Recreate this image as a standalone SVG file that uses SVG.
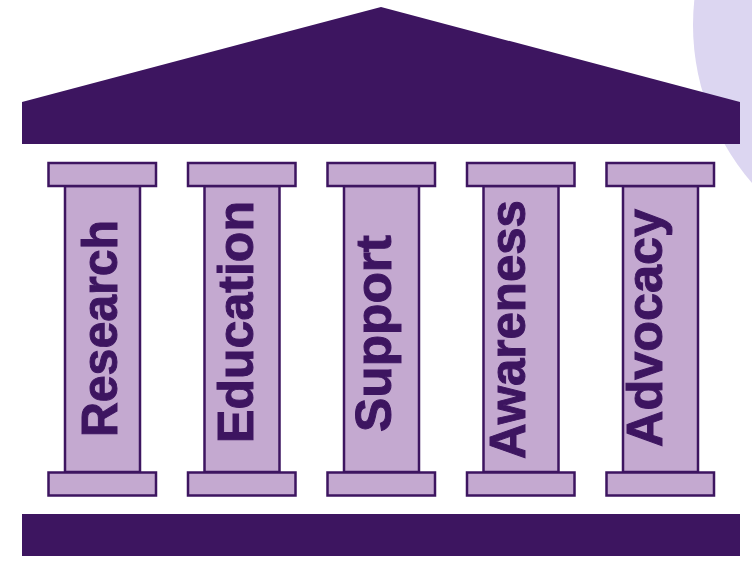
<svg xmlns="http://www.w3.org/2000/svg" width="752" height="561" viewBox="0 0 752 561">
<style>
.dark{fill:#3d1560}
.part{fill:#c4a9d0;stroke:#3d1560;stroke-width:2.5}
.lbl{font-family:"Liberation Sans",Arial,sans-serif;font-weight:bold;font-size:50px;fill:#3d1560;stroke:#3d1560;stroke-width:1;text-anchor:middle}
</style>
<rect width="752" height="561" fill="#ffffff"/>
<ellipse cx="955" cy="25" rx="262" ry="250" fill="#dcd6f1"/>
<g id="roof"><polygon class="dark" points="22,102 381,7 740,102 740,144 22,144"/></g>
<g id="platform"><rect class="dark" x="22" y="514" width="718" height="42"/></g>
<g id="col-research">
<rect class="part" x="65" y="186" width="75" height="286"/>
<rect class="part" x="48.5" y="163" width="107.5" height="23"/>
<rect class="part" x="48.5" y="472.5" width="107.5" height="23"/>
<text class="lbl" transform="translate(117,328.5) rotate(-90)" textLength="217" lengthAdjust="spacingAndGlyphs">Research</text>
</g>
<g id="col-education">
<rect class="part" x="204.5" y="186" width="75" height="286"/>
<rect class="part" x="188" y="163" width="107.5" height="23"/>
<rect class="part" x="188" y="472.5" width="107.5" height="23"/>
<text class="lbl" transform="translate(252.5,322) rotate(-90)" textLength="242" lengthAdjust="spacingAndGlyphs">Education</text>
</g>
<g id="col-support">
<rect class="part" x="344" y="186" width="75" height="286"/>
<rect class="part" x="327.5" y="163" width="107.5" height="23"/>
<rect class="part" x="327.5" y="472.5" width="107.5" height="23"/>
<text class="lbl" transform="translate(390.5,333.5) rotate(-90)" textLength="197" lengthAdjust="spacingAndGlyphs">Support</text>
</g>
<g id="col-awareness">
<rect class="part" x="483.5" y="186" width="75" height="286"/>
<rect class="part" x="467" y="163" width="107.5" height="23"/>
<rect class="part" x="467" y="472.5" width="107.5" height="23"/>
<text class="lbl" transform="translate(525,329.5) rotate(-90)" textLength="259" lengthAdjust="spacingAndGlyphs">Awareness</text>
</g>
<g id="col-advocacy">
<rect class="part" x="623" y="186" width="75" height="286"/>
<rect class="part" x="606.5" y="163" width="107.5" height="23"/>
<rect class="part" x="606.5" y="472.5" width="107.5" height="23"/>
<text class="lbl" transform="translate(662,328) rotate(-90)" textLength="238" lengthAdjust="spacingAndGlyphs">Advocacy</text>
</g>
<g id="connectors"></g>
</svg>
